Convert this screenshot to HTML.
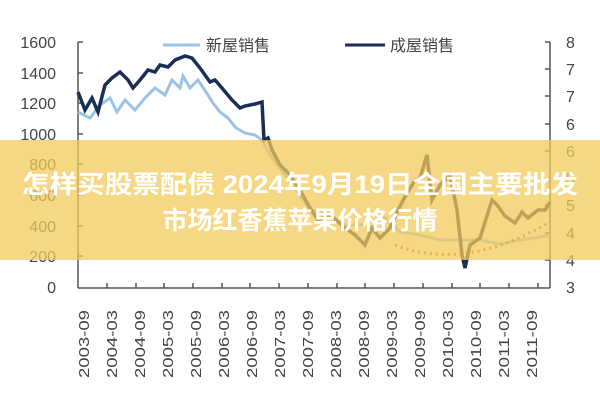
<!DOCTYPE html>
<html><head><meta charset="utf-8"><style>
body{margin:0;width:600px;height:400px;background:#fff;overflow:hidden;font-family:"Liberation Sans","Noto Sans CJK SC",sans-serif}
</style></head><body>
<svg width="600" height="400" xmlns="http://www.w3.org/2000/svg" style="position:absolute;left:0;top:0">
<g font-family="Liberation Sans, Noto Sans CJK SC, sans-serif" font-size="16" fill="#444">
<g text-anchor="end">
<text x="56" y="48">1600</text><text x="56" y="79">1400</text><text x="56" y="109">1200</text>
<text x="56" y="140">1000</text><text x="56" y="170">800</text><text x="56" y="201">600</text>
<text x="56" y="232">400</text><text x="56" y="262">200</text><text x="56" y="293">0</text>
</g>
<g>
<text x="566" y="48">8</text><text x="566" y="75">7</text><text x="566" y="102">7</text>
<text x="566" y="130">6</text><text x="566" y="157">6</text><text x="566" y="184">5</text>
<text x="566" y="211">5</text><text x="566" y="239">4</text><text x="566" y="266">4</text><text x="566" y="293">3</text>
</g>
</g>
<g stroke="#555" stroke-width="1.5" fill="none">
<line x1="78" y1="42" x2="78" y2="288"/><line x1="550" y1="42" x2="550" y2="288"/>
<line x1="78" y1="288" x2="550" y2="288"/>
<path d="M78,42h5M78,73h5M78,103h5M78,134h5M78,164h5M78,195h5M78,226h5M78,256h5
M550,42h-5M550,69h-5M550,96h-5M550,124h-5M550,151h-5M550,178h-5M550,205h-5M550,233h-5M550,260h-5
M107,288v-5M136,288v-5M164,288v-5M193,288v-5M222,288v-5M250,288v-5M279,288v-5M308,288v-5M337,288v-5M365,288v-5M394,288v-5M423,288v-5M452,288v-5M480,288v-5M509,288v-5M538,288v-5"/>
</g>
<g font-size="15" fill="#444" font-family="Liberation Sans, sans-serif">
<text transform="translate(89,378) rotate(-90)" textLength="68" lengthAdjust="spacingAndGlyphs">2003-09</text>
<text transform="translate(117,378) rotate(-90)" textLength="68" lengthAdjust="spacingAndGlyphs">2004-03</text>
<text transform="translate(145,378) rotate(-90)" textLength="68" lengthAdjust="spacingAndGlyphs">2004-09</text>
<text transform="translate(173,378) rotate(-90)" textLength="68" lengthAdjust="spacingAndGlyphs">2005-03</text>
<text transform="translate(201,378) rotate(-90)" textLength="68" lengthAdjust="spacingAndGlyphs">2005-09</text>
<text transform="translate(229,378) rotate(-90)" textLength="68" lengthAdjust="spacingAndGlyphs">2006-03</text>
<text transform="translate(257,378) rotate(-90)" textLength="68" lengthAdjust="spacingAndGlyphs">2006-09</text>
<text transform="translate(285,378) rotate(-90)" textLength="68" lengthAdjust="spacingAndGlyphs">2007-03</text>
<text transform="translate(313,378) rotate(-90)" textLength="68" lengthAdjust="spacingAndGlyphs">2007-09</text>
<text transform="translate(341,378) rotate(-90)" textLength="68" lengthAdjust="spacingAndGlyphs">2008-03</text>
<text transform="translate(369,378) rotate(-90)" textLength="68" lengthAdjust="spacingAndGlyphs">2008-09</text>
<text transform="translate(397,378) rotate(-90)" textLength="68" lengthAdjust="spacingAndGlyphs">2009-03</text>
<text transform="translate(425,378) rotate(-90)" textLength="68" lengthAdjust="spacingAndGlyphs">2009-09</text>
<text transform="translate(453,378) rotate(-90)" textLength="68" lengthAdjust="spacingAndGlyphs">2010-03</text>
<text transform="translate(481,378) rotate(-90)" textLength="68" lengthAdjust="spacingAndGlyphs">2010-09</text>
<text transform="translate(509,378) rotate(-90)" textLength="68" lengthAdjust="spacingAndGlyphs">2011-03</text>
<text transform="translate(537,378) rotate(-90)" textLength="68" lengthAdjust="spacingAndGlyphs">2011-09</text>
</g>
<line x1="163" y1="45" x2="200" y2="45" stroke="#9cc3e6" stroke-width="3"/>
<text x="206" y="51" font-size="16" fill="#444" font-family="Noto Sans CJK SC, sans-serif">新屋销售</text>
<line x1="345" y1="45" x2="385" y2="45" stroke="#1a2f55" stroke-width="3"/>
<text x="390" y="51" font-size="16" fill="#444" font-family="Noto Sans CJK SC, sans-serif">成屋销售</text>
<polyline fill="none" stroke="#9cc3e6" stroke-width="3" points="78,112 90,118 100,105 110,98 117,112 125,100 135,110 145,98 155,88 165,95 172,80 180,88 183,76 190,88 198,80 206,92 213,103 220,112 228,118 236,128 245,133 255,135 262,140 270,155 285,175 300,195 310,210 330,215 345,225 360,225 370,222 385,218 400,232 420,235 440,240 460,240 480,240 500,244 520,240 540,237 550,235"/>
<path d="M395,245 Q465,272 550,222" fill="none" stroke="#c0651b" stroke-width="3" stroke-dasharray="2,4"/>
<polyline fill="none" stroke="#1a2f55" stroke-width="3.5" points="78,92 85,110 92,98 98,112 105,85 112,78 120,72 128,80 133,88 140,80 148,70 155,72 160,65 168,67 175,60 185,56 192,58 200,68 210,82 215,80 222,88 232,100 240,108 245,106 255,104 262,102 264,140 268,138 272,150 280,165 290,175 300,190 310,208 318,220 330,215 345,228 355,235 365,245 372,228 380,238 390,228 398,210 406,195 414,182 420,178 427,155 432,200 440,185 450,175 457,210 462,255 465,268 470,245 480,238 492,200 497,205 505,216 515,223 522,212 528,218 538,210 545,210 550,202"/>
<rect x="0" y="140" width="600" height="120" fill="#f3c95a" opacity="0.75"/>
<g font-family="Liberation Sans, Noto Sans CJK SC, sans-serif" font-size="25" font-weight="bold" fill="#fff" text-anchor="middle">
<text x="300" y="193" textLength="556" lengthAdjust="spacingAndGlyphs">怎样买股票配债 2024年9月19日全国主要批发</text>
<text x="300" y="229">市场红香蕉苹果价格行情</text>
</g>
</svg>
</body></html>
